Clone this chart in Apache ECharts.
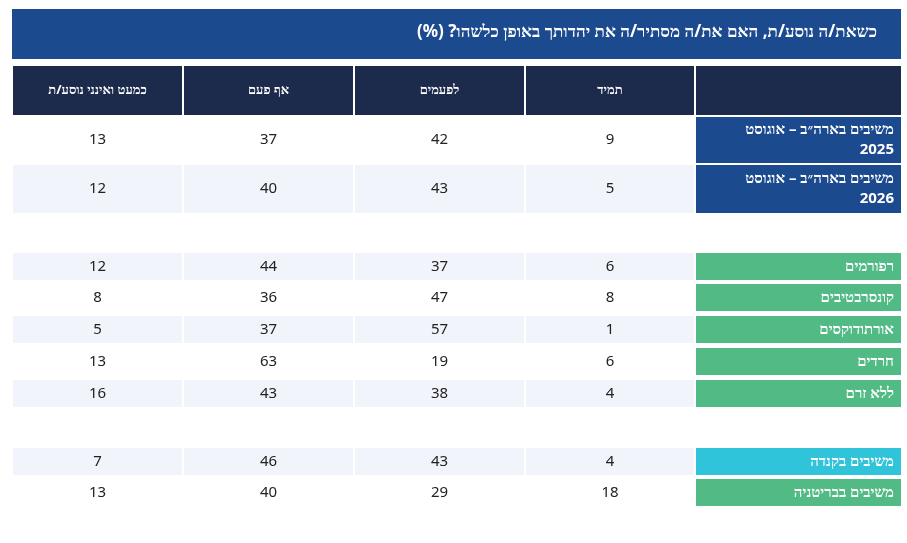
<!DOCTYPE html>
<html dir="rtl">
<head>
<meta charset="utf-8">
<script src="https://cdn.jsdelivr.net/npm/echarts@6/dist/echarts.min.js"></script>
<style>html,body{margin:0;padding:0;background:#fff}#main{width:907px;height:543px}</style>
</head>
<body>
<div id="main"></div>
<script>
const title = 'כשאת/ה נוסע/ת, האם את/ה מסתיר/ה את יהדותך באופן כלשהו? (%)';
const columns = ['תמיד', 'לפעמים', 'אף פעם', 'כמעט ואינני נוסע/ת'];
const rowLabels = [
    'משיבים בארה״ב – אוגוסט\n2025',
    'משיבים בארה״ב – אוגוסט\n2026',
    'רפורמים',
    'קונסרבטיבים',
    'אורתודוקסים',
    'חרדים',
    'ללא זרם',
    'משיבים בקנדה',
    'משיבים בבריטניה'
];
const always = [9, 5, 6, 8, 1, 6, 4, 4, 18];
const sometimes = [42, 43, 37, 47, 57, 19, 38, 43, 29];
const never = [37, 40, 44, 36, 37, 63, 43, 46, 40];
const rarelyTravel = [13, 12, 12, 8, 5, 13, 16, 7, 13];

// layout (pixels on a 907x543 value grid)
const rowTop = [117, 165, 253, 284, 316, 348, 380, 448, 479];
const rowH = [46, 48, 27, 27, 27, 27, 27, 27, 27];
const labelColors = ['#1c4a8f', '#1c4a8f', '#52bb85', '#52bb85', '#52bb85', '#52bb85', '#52bb85', '#2fc4d9', '#52bb85'];
const stripe = ['#ffffff', '#f1f4fa', '#f1f4fa', '#ffffff', '#f1f4fa', '#ffffff', '#f1f4fa', '#f1f4fa', '#ffffff'];
const colLeft = [696, 526, 355, 184, 13];
const colW = [205, 168, 169, 169, 169];

const values = [always, sometimes, never, rarelyTravel];
const cells = [];
// header row = -1
cells.push([-1, 0, '']);
columns.forEach((c, j) => cells.push([-1, j + 1, c]));
rowLabels.forEach((lab, i) => {
    cells.push([i, 0, lab]);
    values.forEach((v, j) => cells.push([i, j + 1, String(v[i])]));
});

function renderItem(params, api) {
    const r = api.value(0), c = api.value(1);
    const text = cells[params.dataIndex][2];
    const top = r < 0 ? 66 : rowTop[r];
    const h = r < 0 ? 49 : rowH[r];
    const p0 = api.coord([colLeft[c], top]);
    const p1 = api.coord([colLeft[c] + colW[c], top + h]);
    let fill, color, font, align, tx;
    if (r < 0) {
        fill = '#1c2a4c'; color = '#fff'; font = 'bold 13px "Noto Sans"'; align = 'center';
    } else if (c === 0) {
        fill = labelColors[r]; color = '#fff'; font = 'bold 15px "Noto Sans"'; align = 'right';
    } else {
        fill = stripe[r]; color = '#222'; font = '15px "Noto Sans"'; align = 'center';
    }
    tx = align === 'right' ? p1[0] - 7 : (p0[0] + p1[0]) / 2;
    return {
        type: 'group',
        children: [
            { type: 'rect', shape: { x: p0[0], y: p0[1], width: p1[0] - p0[0], height: p1[1] - p0[1] }, style: { fill: fill } },
            { type: 'text', style: { x: tx, y: (p0[1] + p1[1]) / 2, text: text, fill: color, font: font, align: align, verticalAlign: 'middle', lineHeight: 20 } }
        ]
    };
}

const chart = echarts.init(document.getElementById('main'));
chart.setOption({
    animation: false,
    grid: { left: 0, right: 0, top: 0, bottom: 0 },
    xAxis: { type: 'value', min: 0, max: 907, show: false },
    yAxis: { type: 'value', min: 0, max: 543, inverse: true, show: false },
    graphic: [
        { type: 'rect', shape: { x: 12, y: 9, width: 889, height: 50 }, style: { fill: '#1c4a8f' } },
        { type: 'text', right: 30, top: 24, style: { text: title, fill: '#fff', font: 'bold 17px "Noto Sans"' } }
    ],
    series: [{
        type: 'custom',
        renderItem: renderItem,
        data: cells.map(d => [d[0], d[1]])
    }]
});
</script>
</body>
</html>
